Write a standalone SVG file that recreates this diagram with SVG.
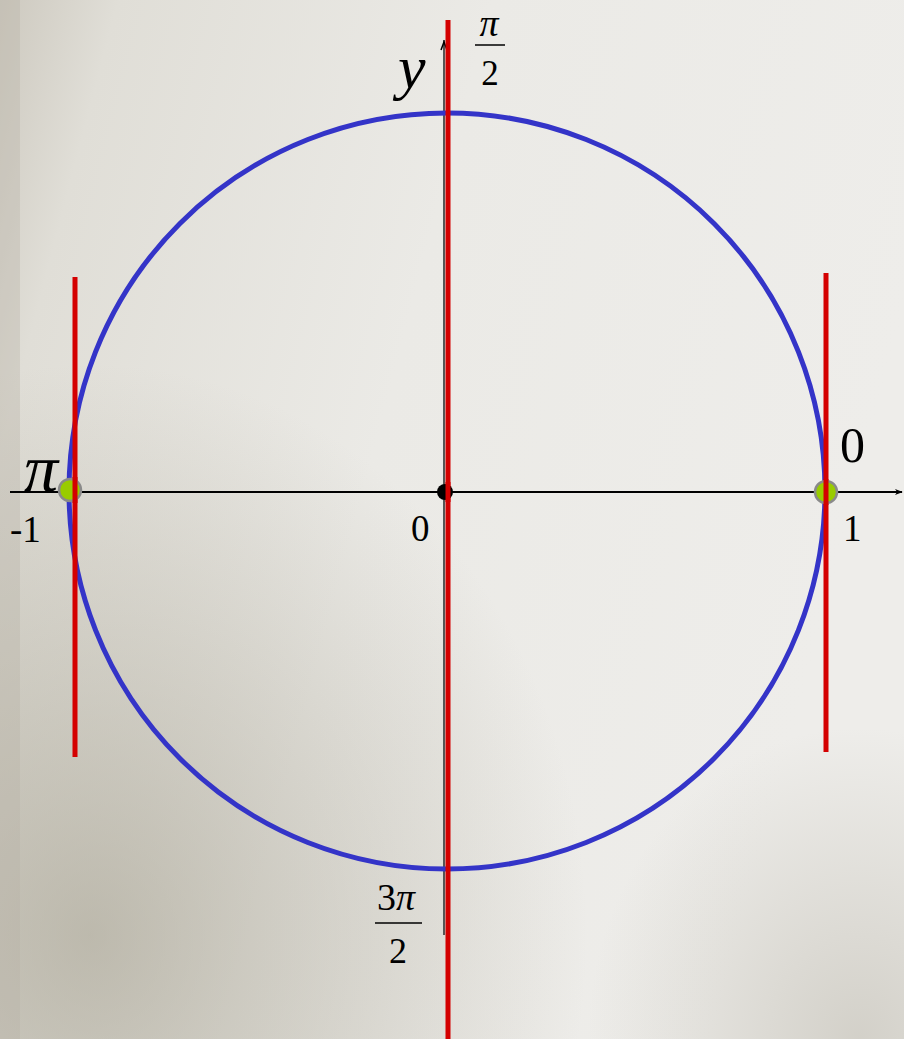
<svg xmlns="http://www.w3.org/2000/svg" width="904" height="1039" viewBox="0 0 904 1039">
<defs>
<linearGradient id="bg" x1="0" y1="0" x2="1" y2="0.3">
<stop offset="0" stop-color="#cdc9bf"/>
<stop offset="0.12" stop-color="#e0ded7"/>
<stop offset="0.5" stop-color="#ebeae6"/>
<stop offset="1" stop-color="#eeedea"/>
</linearGradient>
<radialGradient id="shadeBL" cx="0.1" cy="0.9" r="0.55">
<stop offset="0" stop-color="#a19c8b" stop-opacity="0.6"/>
<stop offset="1" stop-color="#a19c8b" stop-opacity="0"/>
</radialGradient>
<radialGradient id="shadeBR" cx="0.95" cy="1" r="0.3">
<stop offset="0" stop-color="#b8b4a8" stop-opacity="0.5"/>
<stop offset="1" stop-color="#b8b4a8" stop-opacity="0"/>
</radialGradient>
<marker id="arr" viewBox="0 0 10 10" refX="9" refY="5" markerWidth="8" markerHeight="8" orient="auto" markerUnits="userSpaceOnUse">
<path d="M0,1 L10,5 L0,9 L3,5 Z" fill="#000"/>
</marker>
<style>
.serif{font-family:"Liberation Serif","Times New Roman",serif;fill:#000}
.red{stroke:#d40000;stroke-width:5}
.pt{fill:#99cc00;stroke:#8a8a8a;stroke-width:2.5}
</style>
</defs>
<rect width="904" height="1039" fill="url(#bg)"/>
<rect width="904" height="1039" fill="url(#shadeBL)"/>
<rect width="904" height="1039" fill="url(#shadeBR)"/>
<rect x="0" y="0" width="20" height="1039" fill="#b7b2a6" opacity="0.35"/>

<g id="axes">
<line x1="10" y1="492" x2="902" y2="492" stroke="#000" stroke-width="2" marker-end="url(#arr)"/>
<line x1="444" y1="935" x2="444" y2="40" stroke="#555" stroke-width="2"/>
<path d="M441,50 L444,42 L447,50" fill="none" stroke="#000" stroke-width="1.5"/>
</g>

<g id="circle">
<circle cx="447" cy="491" r="378" fill="none" stroke="#3434c8" stroke-width="5"/>
</g>

<g id="connectors">
<line class="red" x1="448" y1="20" x2="448" y2="1039"/>
<line class="red" x1="75" y1="277" x2="75" y2="757"/>
<line class="red" x1="826" y1="273" x2="826" y2="752"/>
</g>

<g id="points">
<circle class="pt" cx="70" cy="490" r="11"/>
<circle class="pt" cx="826" cy="492" r="11"/>
<circle cx="445" cy="492" r="8" fill="#000"/>
<line class="red" x1="448" y1="482" x2="448" y2="502"/>
<line class="red" x1="75" y1="477" x2="75" y2="503"/>
<line class="red" x1="826" y1="479" x2="826" y2="505"/>
</g>

<g id="labels">
<text class="serif" x="24" y="491" font-size="68" font-style="italic">π</text>
<text class="serif" x="10" y="542" font-size="37">-1</text>
<text class="serif" x="411" y="541" font-size="37">0</text>
<text class="serif" x="843" y="541" font-size="37">1</text>
<text class="serif" x="840" y="462" font-size="50">0</text>
<text class="serif" x="398" y="88" font-size="62" font-style="italic">y</text>
<text class="serif" x="489" y="36" font-size="38" font-style="italic" text-anchor="middle">π</text>
<line x1="475" y1="45" x2="505" y2="45" stroke="#000" stroke-width="1.5"/>
<text class="serif" x="490" y="85" font-size="35" text-anchor="middle">2</text>
<text class="serif" x="396" y="910" font-size="38" text-anchor="middle">3<tspan font-style="italic">π</tspan></text>
<line x1="375" y1="923" x2="422" y2="923" stroke="#000" stroke-width="1.5"/>
<text class="serif" x="398" y="963" font-size="36" text-anchor="middle">2</text>
</g>
</svg>
